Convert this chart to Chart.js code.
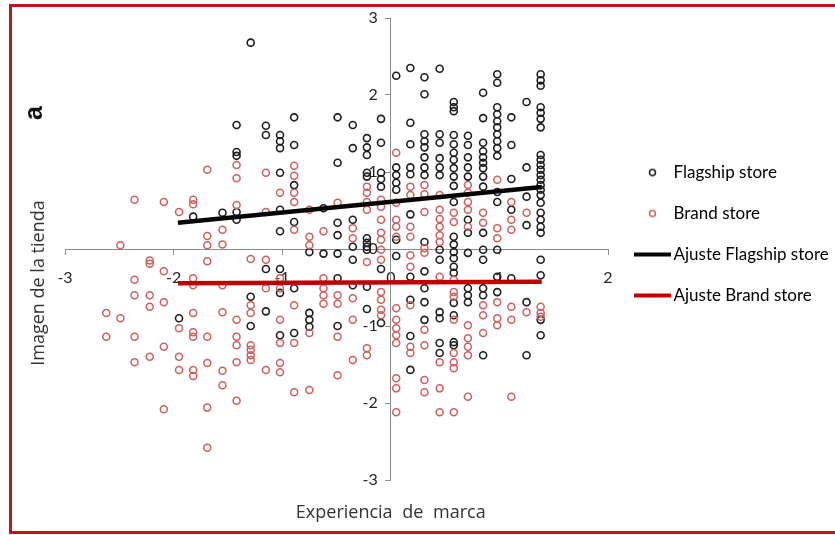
<!DOCTYPE html>
<html>
<head>
<meta charset="utf-8">
<script src="https://cdn.jsdelivr.net/npm/chart.js@4.4.1/dist/chart.umd.min.js"></script>
<style>
  html, body { margin: 0; padding: 0; background: #fff; overflow: hidden; }
  #wrap { position: relative; width: 835px; height: 535px; }
  #frame { position: absolute; left: 9px; top: 4px; width: 840px; height: 524px; border: 3px solid #c0141c; border-right: none; }
  #chart { position: absolute; left: 0; top: 0; }
</style>
</head>
<body>
<div id="wrap">
  <div id="frame"></div>
  <canvas id="chart" width="835" height="535"></canvas>
</div>
<script>
// tick values of the two axes, crossing at the origin
const xTicks = [-3, -2, -1, 0, 1, 2];
const yTicks = [-3, -2, -1, 0, 1, 2, 3];

const xTitle = "Experiencia de marca";
const yTitle = "Imagen de la tienda";
const panelTag = "a";

const seriesNames = ["Flagship store", "Brand store", "Ajuste Flagship store", "Ajuste Brand store"];

// [experiencia, imagen], column by column
const flagshipPoints = [
  [-1.95, -0.90],
  [-1.82, 0.42],
  [-1.55, 0.47],
  [-1.42, 1.61], [-1.42, 1.26], [-1.42, 1.21], [-1.42, 0.48], [-1.42, 0.38],
  [-1.29, 2.68], [-1.29, -0.62], [-1.29, -1.00],
  [-1.15, 1.60], [-1.15, 1.48], [-1.15, -0.26], [-1.15, -0.81],
  [-1.02, 1.48], [-1.02, 1.40], [-1.02, 1.31], [-1.02, 0.99], [-1.02, 0.51], [-1.02, 0.23], [-1.02, -0.26], [-1.02, -0.57], [-1.02, -1.12],
  [-0.89, 1.71], [-0.89, 1.35], [-0.89, 0.83], [-0.89, 0.35], [-0.89, -0.51], [-0.89, -1.09],
  [-0.75, -0.04], [-0.75, -0.83], [-0.75, -0.92], [-0.75, -1.01],
  [-0.62, 0.53], [-0.62, -0.06],
  [-0.49, 1.71], [-0.49, 1.12], [-0.49, 0.34], [-0.49, 0.18], [-0.49, -0.06], [-0.49, -0.38], [-0.49, -1.00],
  [-0.35, 1.61], [-0.35, 1.31], [-0.35, 0.38], [-0.35, 0.03], [-0.35, -0.14], [-0.35, -0.47],
  [-0.22, 1.44], [-0.22, 1.32], [-0.22, 1.22], [-0.22, 0.99], [-0.22, 0.94], [-0.22, 0.14], [-0.22, 0.08], [-0.22, 0.03], [-0.22, -0.01], [-0.22, -0.49], [-0.22, -0.78],
  [-0.09, 1.69], [-0.09, 1.38], [-0.09, 0.99], [-0.09, 0.91], [-0.09, 0.81], [-0.09, -0.26], [-0.09, -0.96],
  [0.05, 2.25], [0.05, 1.06], [0.05, 0.96], [0.05, 0.86], [0.05, 0.77], [0.05, 0.12], [0.05, -0.09],
  [0.18, 2.35], [0.18, 1.64], [0.18, 1.36], [0.18, 1.06], [0.18, 0.97], [0.18, 0.45], [0.18, -0.36], [0.18, -0.66], [0.18, -1.13], [0.18, -1.57],
  [0.31, 2.23], [0.31, 2.01], [0.31, 1.49], [0.31, 1.40], [0.31, 1.32], [0.31, 1.19], [0.31, 1.06], [0.31, 0.96], [0.31, 0.09], [0.31, -0.29], [0.31, -0.51], [0.31, -0.69], [0.31, -0.92],
  [0.45, 2.34], [0.45, 1.49], [0.45, 1.38], [0.45, 1.18], [0.45, 1.06], [0.45, 0.96], [0.45, -0.01], [0.45, -0.14], [0.45, -0.82], [0.45, -0.90], [0.45, -1.22], [0.45, -1.35],
  [0.58, 1.91], [0.58, 1.84], [0.58, 1.79], [0.58, 1.48], [0.58, 1.36], [0.58, 1.25], [0.58, 1.16], [0.58, 1.05], [0.58, 0.94], [0.58, 0.82], [0.58, 0.61],
  [0.58, 0.16], [0.58, 0.06], [0.58, -0.04], [0.58, -0.12], [0.58, -0.23], [0.58, -0.31], [0.58, -0.70], [0.58, -0.86], [0.58, -1.21], [0.58, -1.25],
  [0.71, 1.47], [0.71, 1.35], [0.71, 1.19], [0.71, 1.06], [0.71, 0.94], [0.71, 0.38], [0.71, 0.21], [0.71, -0.05], [0.71, -0.51], [0.71, -0.60], [0.71, -0.69],
  [0.85, 2.03], [0.85, 1.70], [0.85, 1.38], [0.85, 1.27], [0.85, 1.19], [0.85, 1.12], [0.85, 1.05], [0.85, 0.94], [0.85, 0.81], [0.85, 0.21], [0.85, -0.01], [0.85, -0.14], [0.85, -0.51], [0.85, -0.60], [0.85, -1.38],
  [0.98, 2.27], [0.98, 2.16], [0.98, 1.84], [0.98, 1.75], [0.98, 1.66], [0.98, 1.58], [0.98, 1.49], [0.98, 1.40], [0.98, 1.31], [0.98, 1.21], [0.98, 0.74], [0.98, 0.61], [0.98, -0.01], [0.98, -0.36], [0.98, -0.56],
  [1.11, 1.71], [1.11, 1.35], [1.11, 0.91], [1.11, 0.51], [1.11, -0.38],
  [1.25, 1.91], [1.25, 1.06], [1.25, 0.68], [1.25, 0.31], [1.25, -0.69], [1.25, -1.38],
  [1.38, 2.27], [1.38, 2.19], [1.38, 2.12], [1.38, 1.84], [1.38, 1.77], [1.38, 1.69], [1.38, 1.58], [1.38, 1.22], [1.38, 1.16], [1.38, 1.09], [1.38, 1.03], [1.38, 0.96], [1.38, 0.90],
  [1.38, 0.83], [1.38, 0.77], [1.38, 0.70], [1.38, 0.60], [1.38, 0.47], [1.38, 0.38], [1.38, 0.29], [1.38, 0.21], [1.38, -0.14], [1.38, -0.34], [1.38, -0.92], [1.38, -1.12]
];

const brandPoints = [
  [-2.62, -0.83], [-2.62, -1.14],
  [-2.49, 0.05], [-2.49, -0.90],
  [-2.36, 0.64], [-2.36, -0.40], [-2.36, -0.60], [-2.36, -1.14], [-2.36, -1.47],
  [-2.22, -0.15], [-2.22, -0.19], [-2.22, -0.60], [-2.22, -0.75], [-2.22, -1.40],
  [-2.09, 0.61], [-2.09, -0.29], [-2.09, -0.69], [-2.09, -1.27], [-2.09, -2.08],
  [-1.95, 0.48], [-1.95, -1.03], [-1.95, -1.40], [-1.95, -1.57],
  [-1.82, 0.64], [-1.82, 0.58], [-1.82, -0.38], [-1.82, -0.47], [-1.82, -0.83], [-1.82, -1.08], [-1.82, -1.14], [-1.82, -1.57], [-1.82, -1.65],
  [-1.69, 1.03], [-1.69, 0.17], [-1.69, 0.05], [-1.69, -0.16], [-1.69, -1.14], [-1.69, -1.48], [-1.69, -2.06], [-1.69, -2.58],
  [-1.55, 0.25], [-1.55, 0.06], [-1.55, -0.47], [-1.55, -0.82], [-1.55, -1.58], [-1.55, -1.77],
  [-1.42, 1.09], [-1.42, 0.92], [-1.42, 0.57], [-1.42, -0.92], [-1.42, -1.14], [-1.42, -1.25], [-1.42, -1.47], [-1.42, -1.97],
  [-1.29, -0.13], [-1.29, -0.73], [-1.29, -0.83], [-1.29, -1.25], [-1.29, -1.31], [-1.29, -1.38], [-1.29, -1.44],
  [-1.15, 0.99], [-1.15, 0.48], [-1.15, -0.14], [-1.15, -0.51], [-1.15, -1.57],
  [-1.02, 0.73], [-1.02, -0.38], [-1.02, -0.51], [-1.02, -0.92], [-1.02, -1.22], [-1.02, -1.48], [-1.02, -1.60],
  [-0.89, 1.08], [-0.89, 0.95], [-0.89, 0.73], [-0.89, 0.61], [-0.89, 0.25], [-0.89, -0.73], [-0.89, -1.22], [-0.89, -1.86],
  [-0.75, 0.51], [-0.75, 0.16], [-0.75, 0.05], [-0.75, -1.09], [-0.75, -1.83],
  [-0.62, 0.23], [-0.62, -0.38], [-0.62, -0.51], [-0.62, -0.60], [-0.62, -0.71],
  [-0.49, 0.60], [-0.49, -0.60], [-0.49, -0.71], [-0.49, -1.14], [-0.49, -1.64],
  [-0.35, 0.27], [-0.35, 0.14], [-0.35, -0.64], [-0.35, -0.92], [-0.35, -1.44],
  [-0.22, 0.81], [-0.22, 0.73], [-0.22, 0.61], [-0.22, 0.51], [-0.22, -0.17], [-0.22, -1.29], [-0.22, -1.38],
  [-0.09, 0.64], [-0.09, 0.55], [-0.09, 0.38], [-0.09, 0.21], [-0.09, 0.12], [-0.09, -0.01], [-0.09, -0.14], [-0.09, -0.56], [-0.09, -0.66], [-0.09, -0.79], [-0.09, -0.86],
  [0.05, 1.25], [0.05, 0.60], [0.05, 0.38], [0.05, 0.29], [0.05, 0.16], [0.05, -0.77], [0.05, -0.92], [0.05, -1.03], [0.05, -1.12], [0.05, -1.22], [0.05, -1.68], [0.05, -1.81], [0.05, -2.12],
  [0.18, 0.81], [0.18, 0.70], [0.18, 0.29], [0.18, 0.16], [0.18, -0.08], [0.18, -0.23], [0.18, -0.73], [0.18, -1.27], [0.18, -1.35],
  [0.31, 0.83], [0.31, 0.71], [0.31, 0.48], [0.31, 0.01], [0.31, -0.05], [0.31, -1.05], [0.31, -1.25], [0.31, -1.70], [0.31, -1.86],
  [0.45, 0.70], [0.45, 0.51], [0.45, 0.39], [0.45, 0.29], [0.45, 0.18], [0.45, 0.09], [0.45, -0.36], [0.45, -1.47], [0.45, -1.81], [0.45, -2.12],
  [0.58, 0.47], [0.58, 0.35], [0.58, -0.40], [0.58, -0.56], [0.58, -0.62], [0.58, -0.92], [0.58, -1.35], [0.58, -1.47], [0.58, -1.55], [0.58, -2.12],
  [0.71, 0.83], [0.71, 0.73], [0.71, 0.61], [0.71, 0.51], [0.71, 0.29], [0.71, -0.99], [0.71, -1.16], [0.71, -1.27], [0.71, -1.38], [0.71, -1.92],
  [0.85, 0.47], [0.85, 0.34], [0.85, -0.73], [0.85, -0.86], [0.85, -1.09],
  [0.98, 0.90], [0.98, 0.27], [0.98, 0.14], [0.98, -0.69], [0.98, -0.90], [0.98, -0.99],
  [1.11, 0.61], [1.11, 0.38], [1.11, 0.25], [1.11, -0.75], [1.11, -0.92], [1.11, -1.92],
  [1.25, 0.47], [1.25, -0.82],
  [1.38, -0.75], [1.38, -0.83], [1.38, -0.88]
];

// fitted lines, end points
const fitX = [-1.96, 1.39];
const flagshipFitY = [0.34, 0.805];
const brandFitY = [-0.445, -0.425];

const BLACK = "#1e1e1e";
const RED = "#cf5e5e";
const FIT_BLACK = "#050505";
const FIT_RED = "#c00000";

function toXY(pairs) {
  return pairs.map(p => ({ x: p[0], y: p[1] }));
}

function legendMark(kind, color) {
  const c = document.createElement("canvas");
  c.width = 45;
  c.height = 12;
  const g = c.getContext("2d");
  g.strokeStyle = color;
  g.beginPath();
  if (kind === "line") {
    g.lineWidth = 4;
    g.moveTo(8, 6);
    g.lineTo(45, 6);
  } else {
    g.lineWidth = 1.5;
    g.arc(26.5, 6, 3, 0, Math.PI * 2);
  }
  g.stroke();
  return c;
}

const legendMarks = [
  legendMark("dot", BLACK),
  legendMark("dot", RED),
  legendMark("line", FIT_BLACK),
  legendMark("line", FIT_RED)
];

// axis titles and the panel letter sit outside the chart area
const outerTexts = {
  id: "outerTexts",
  afterDraw(chart) {
    const ctx = chart.ctx;
    const x0 = chart.scales.x.getPixelForValue(0);
    ctx.save();
    ctx.fillStyle = "#333";
    ctx.font = '18px "Open Sans"';
    ctx.textAlign = "center";
    ctx.textBaseline = "alphabetic";
    if ("wordSpacing" in ctx) ctx.wordSpacing = "5px";
    ctx.fillText(xTitle, x0, 518);
    if ("wordSpacing" in ctx) ctx.wordSpacing = "0px";
    ctx.translate(44, 283);
    ctx.rotate(-Math.PI / 2);
    ctx.fillText(yTitle, 0, 0);
    ctx.restore();

    ctx.save();
    ctx.fillStyle = "#111";
    ctx.font = 'bold 25px "Liberation Sans"';
    ctx.textAlign = "center";
    ctx.translate(42, 113);
    ctx.rotate(-Math.PI / 2);
    ctx.fillText(panelTag, 0, 0);
    ctx.restore();
  }
};

// Excel put the legend a bit above the middle
const legendNudge = {
  id: "legendNudge",
  afterLayout(chart) {
    if (chart.legend) {
      chart.legend.top -= 15;
      chart.legend.bottom -= 15;
    }
  }
};

const axisGrey = "#8c8c8c";
const tickFont = { family: "Lato", size: 16 };
const tickColor = "#262626";

new Chart(document.getElementById("chart"), {
  type: "scatter",
  data: {
    datasets: [
      {
        label: seriesNames[0],
        data: toXY(flagshipPoints),
        borderColor: BLACK,
        backgroundColor: "rgba(0,0,0,0)",
        borderWidth: 1.6,
        pointRadius: 3.5,
        order: 3
      },
      {
        label: seriesNames[1],
        data: toXY(brandPoints),
        borderColor: RED,
        backgroundColor: "rgba(0,0,0,0)",
        borderWidth: 1.5,
        pointRadius: 3.5,
        order: 2
      },
      {
        label: seriesNames[2],
        data: fitX.map((x, i) => ({ x: x, y: flagshipFitY[i] })),
        showLine: true,
        borderColor: FIT_BLACK,
        borderWidth: 4.5,
        pointRadius: 0,
        order: 1
      },
      {
        label: seriesNames[3],
        data: fitX.map((x, i) => ({ x: x, y: brandFitY[i] })),
        showLine: true,
        borderColor: FIT_RED,
        borderWidth: 4.5,
        pointRadius: 0,
        order: 0
      }
    ]
  },
  options: {
    responsive: false,
    animation: false,
    events: [],
    layout: { padding: { left: 65, top: 18, right: 0, bottom: 55 } },
    scales: {
      x: {
        type: "linear",
        position: { y: 0 },
        min: xTicks[0],
        max: xTicks[xTicks.length - 1],
        afterBuildTicks: (s) => { s.ticks = xTicks.map(v => ({ value: v })); },
        ticks: { padding: 14, color: tickColor, font: tickFont },
        grid: { drawOnChartArea: false, drawTicks: true, tickLength: 5, color: axisGrey },
        border: { color: axisGrey, width: 1 }
      },
      y: {
        type: "linear",
        position: { x: 0 },
        min: yTicks[0],
        max: yTicks[yTicks.length - 1],
        afterBuildTicks: (s) => { s.ticks = yTicks.map(v => ({ value: v })); },
        // labels of a centred y axis are drawn flush on the axis, so pad them with a space
        ticks: { color: tickColor, font: tickFont, callback: (v) => v + "\u2003\u200a" },
        grid: { drawOnChartArea: false, drawTicks: true, tickLength: 5, color: axisGrey },
        border: { color: axisGrey, width: 1 }
      }
    },
    plugins: {
      tooltip: { enabled: false },
      legend: {
        position: "right",
        align: "center",
        maxWidth: 227,
        labels: {
          usePointStyle: true,
          pointStyleWidth: 33,
          padding: 24,
          color: "#000",
          font: { family: "Lato", size: 17 },
          generateLabels: (chart) => chart.data.datasets.map((ds, i) => ({
            text: ds.label,
            pointStyle: legendMarks[i],
            fillStyle: "rgba(0,0,0,0)",
            strokeStyle: "rgba(0,0,0,0)",
            lineWidth: 0,
            hidden: false,
            datasetIndex: i
          }))
        }
      }
    }
  },
  plugins: [legendNudge, outerTexts]
});
</script>
</body>
</html>
